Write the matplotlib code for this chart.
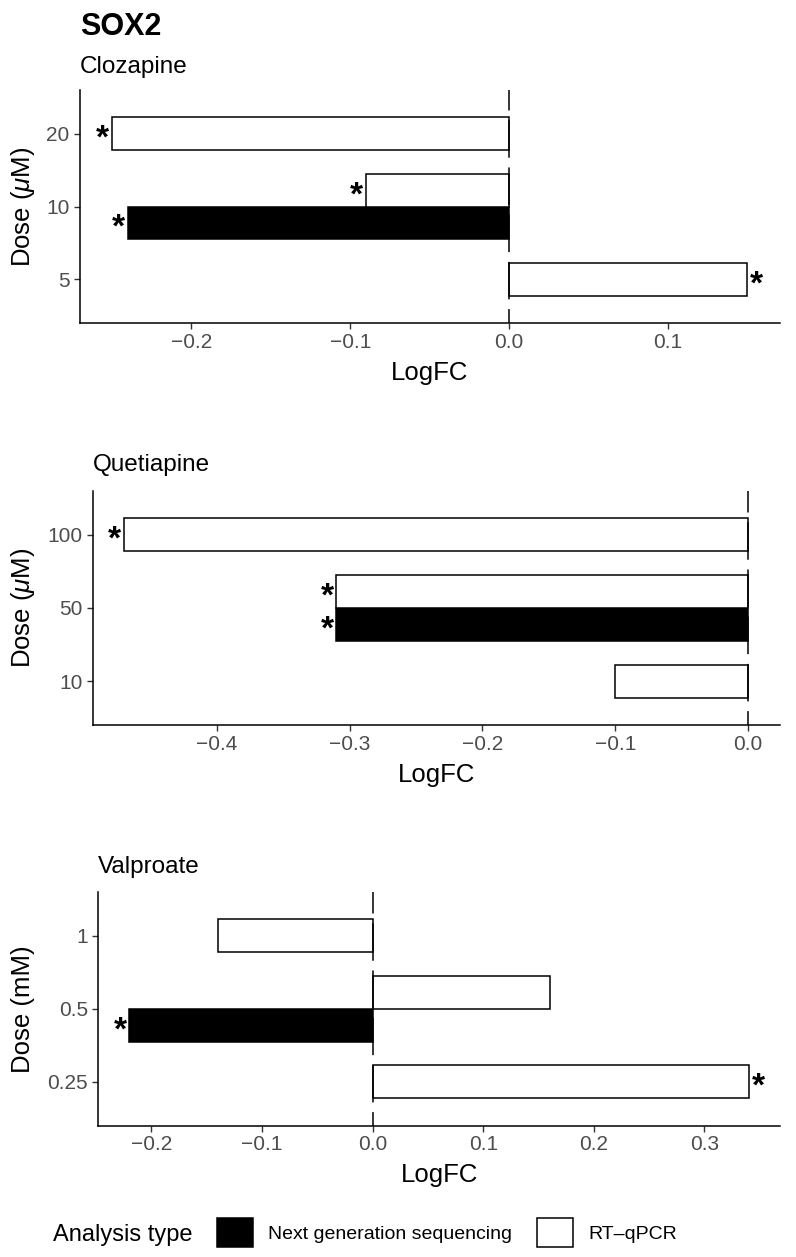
import numpy as np
import matplotlib
matplotlib.use("Agg")
import matplotlib.pyplot as plt
from matplotlib.patches import Patch

plt.rcParams['font.family'] = ['Liberation Sans', 'DejaVu Sans']
plt.rcParams['mathtext.fontset'] = 'custom'
plt.rcParams['mathtext.it'] = 'Liberation Sans:italic'
plt.rcParams['lines.scale_dashes'] = False

# data
clozapine_doses = ["5", "10", "20"]
clozapine_ngs = [np.nan, -0.24, np.nan]
clozapine_rtqpcr = [0.15, -0.09, -0.25]
clozapine_ngs_sig = [False, True, False]
clozapine_rtqpcr_sig = [True, True, True]

quetiapine_doses = ["10", "50", "100"]
quetiapine_ngs = [np.nan, -0.31, np.nan]
quetiapine_rtqpcr = [-0.10, -0.31, -0.47]
quetiapine_ngs_sig = [False, True, False]
quetiapine_rtqpcr_sig = [False, True, True]

valproate_doses = ["0.25", "0.5", "1"]
valproate_ngs = [np.nan, -0.22, np.nan]
valproate_rtqpcr = [0.34, 0.16, -0.14]
valproate_ngs_sig = [False, True, False]
valproate_rtqpcr_sig = [True, False, False]

W, H = 796, 1257

def rect(l, t, r, b):
    return [l / W, 1 - b / H, (r - l) / W, (b - t) / H]

def fx(x):
    return x / W

def fy(y):
    return 1 - y / H

panels = [
    dict(title="Clozapine", ylabel=r"Dose ($\mu$M)", doses=clozapine_doses,
         ngs=clozapine_ngs, rt=clozapine_rtqpcr, ngs_sig=clozapine_ngs_sig,
         rt_sig=clozapine_rtqpcr_sig, box=(80, 90, 780, 323),
         xlim=(-0.2702, 0.1707), xticks=[-0.2, -0.1, 0.0, 0.1], title_y=72.7),
    dict(title="Quetiapine", ylabel=r"Dose ($\mu$M)", doses=quetiapine_doses,
         ngs=quetiapine_ngs, rt=quetiapine_rtqpcr, ngs_sig=quetiapine_ngs_sig,
         rt_sig=quetiapine_rtqpcr_sig, box=(92.7, 490.7, 780, 725),
         xlim=(-0.4933, 0.0239), xticks=[-0.4, -0.3, -0.2, -0.1, 0.0], title_y=471.5),
    dict(title="Valproate", ylabel="Dose (mM)", doses=valproate_doses,
         ngs=valproate_ngs, rt=valproate_rtqpcr, ngs_sig=valproate_ngs_sig,
         rt_sig=valproate_rtqpcr_sig, box=(98.3, 891.7, 780, 1125.7),
         xlim=(-0.2481, 0.3683), xticks=[-0.2, -0.1, 0.0, 0.1, 0.2, 0.3], title_y=873.3),
]

bar_h = 0.45
star_fs = 24

fig = plt.figure(figsize=(W / 100, H / 100), dpi=100)

fig.text(fx(80), fy(35), "SOX2", fontsize=22, fontweight='bold', ha='left', va='baseline')

def star(ax, x, y):
    if x < 0:
        ax.annotate("*", (x, y), xytext=(-2, -0.42 * star_fs), textcoords='offset points',
                    ha='right', va='baseline', fontsize=star_fs, fontweight='bold')
    else:
        ax.annotate("*", (x, y), xytext=(2, -0.42 * star_fs), textcoords='offset points',
                    ha='left', va='baseline', fontsize=star_fs, fontweight='bold')

for p in panels:
    l, t, r, b = p['box']
    ax = fig.add_axes(rect(l, t, r, b))
    pos = np.arange(1, len(p['doses']) + 1)
    for i, y in enumerate(pos):
        ngs = p['ngs'][i]
        rt = p['rt'][i]
        both = not np.isnan(ngs) and not np.isnan(rt)
        if not np.isnan(ngs):
            yy = y - bar_h / 2 if both else y
            ax.barh(yy, ngs, height=bar_h, color='black', edgecolor='black', linewidth=1.1, zorder=2)
            if p['ngs_sig'][i]:
                star(ax, ngs, yy)
        if not np.isnan(rt):
            yy = y + bar_h / 2 if both else y
            ax.barh(yy, rt, height=bar_h, color='white', edgecolor='black', linewidth=1.1, zorder=2)
            if p['rt_sig'][i]:
                star(ax, rt, yy)
    ax.axvline(0, color='black', linewidth=1.1, linestyle=(17, (27, 7)), zorder=3)
    ax.set_xlim(*p['xlim'])
    ax.set_ylim(0.4, len(p['doses']) + 0.6)
    ax.set_yticks(pos)
    ax.set_yticklabels(p['doses'])
    ax.set_xticks(p['xticks'])
    ax.set_xticklabels([f"{v:.1f}".replace("-", "\u2212") for v in p['xticks']])
    for s in ['top', 'right']:
        ax.spines[s].set_visible(False)
    for s in ['left', 'bottom']:
        ax.spines[s].set_linewidth(1.1)
    ax.tick_params(axis='both', length=4.5, width=1.0, color='#333333',
                   labelsize=15, labelcolor='#4D4D4D')
    ax.tick_params(axis='x', pad=2.5)
    ax.tick_params(axis='y', pad=3)
    fig.text(fx(l), fy(p['title_y']), p['title'], fontsize=17.5, ha='left', va='baseline')
    fig.text(fx(23), fy((t + b) / 2), p['ylabel'], fontsize=18.5, rotation=90,
             ha='center', va='center')
    fig.text(fx((l + r) / 2), fy(b + 56.7), "LogFC", fontsize=18.5, ha='center', va='baseline')

fig.text(fx(53), fy(1241), "Analysis type", fontsize=17, ha='left', va='baseline')
handles = [Patch(facecolor='black', edgecolor='black', linewidth=1.1),
           Patch(facecolor='white', edgecolor='black', linewidth=1.1)]
fig.legend(handles, ["Next generation sequencing", "RT\u2013qPCR"], ncol=2, frameon=False,
           loc='center left', bbox_to_anchor=(fx(217), fy(1232.5)), borderpad=0,
           borderaxespad=0, handlelength=1.85, handleheight=1.9, handletextpad=0.77,
           columnspacing=1.3, fontsize=14)

fig.savefig("out.png", dpi=100)
